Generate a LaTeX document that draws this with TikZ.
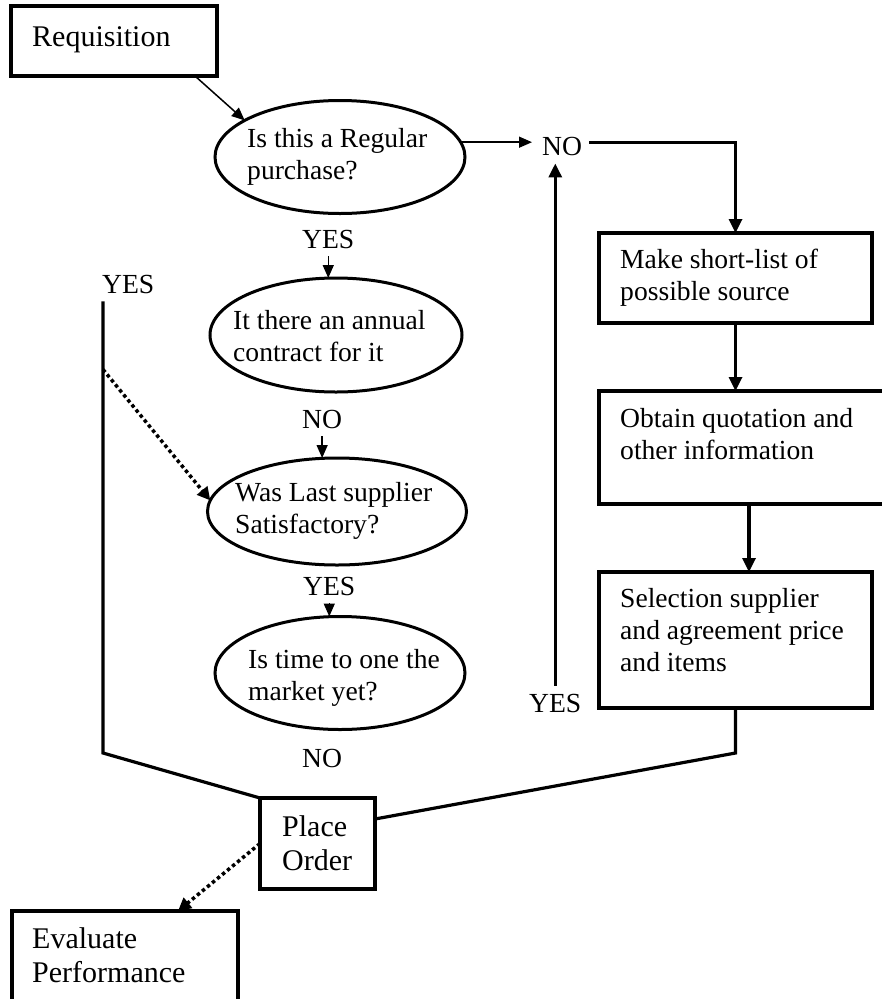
\documentclass[tikz,border=0pt]{standalone}
\usepackage{fontspec}
\setmainfont{Liberation Serif}
\usetikzlibrary{arrows.meta,shapes.geometric}
% left-aligned block of lines whose baseline is the first line
\newcommand\stacktext[1]{\begin{tabular}[t]{@{}l@{}}#1\end{tabular}}
\begin{document}
\begin{tikzpicture}[x=1pt,y=-1pt,
  font=\fontsize{27.6}{32}\selectfont,
  shapebox/.style={draw, line width=3.2pt, rectangle, inner sep=0pt, outer sep=0pt},
  oval/.style={draw, line width=3pt, ellipse, inner sep=0pt, outer sep=0pt},
  boxtext/.style={anchor=base west, inner sep=0pt},
  bigtext/.style={boxtext, font=\fontsize{30}{34.5}\selectfont},
  answer/.style={anchor=base west, inner xsep=0pt, inner ysep=8pt},
  finearrow/.style={line width=1.5pt, -{Triangle[length=13pt,width=11pt]}},
  boldarrow/.style={line width=3.2pt, -{Triangle[length=14pt,width=13pt]}},
  boldline/.style={line width=3.2pt, line join=miter},
  dotarrow/.style={line width=3.5pt, dash pattern=on 3.5pt off 3pt,
                   -{Triangle[length=13pt,width=13pt]}},
]
\useasboundingbox (0,0) rectangle (882,999);
\clip (0,0) rectangle (882,999);
\fill[white] (0,0) rectangle (882,999);

% ---- shapes ----
\node[shapebox, minimum width=206pt, minimum height=70pt] (req) at (114,41) {};
\node[bigtext] (reqT) at (32,46) {Requisition};

\node[oval, minimum width=250pt, minimum height=113pt] (e1) at (340,157) {};
\node[boxtext] (e1T) at (247,147) {\stacktext{Is this a Regular\\purchase?}};

\node[oval, minimum width=252pt, minimum height=114pt] (e2) at (336,335) {};
\node[boxtext] (e2T) at (233,329) {\stacktext{It there an annual\\contract for it}};

\node[oval, minimum width=259pt, minimum height=107pt] (e3) at (337,511.5) {};
\node[boxtext] (e3T) at (235,501) {\stacktext{Was Last supplier\\Satisfactory?}};

\node[oval, minimum width=250pt, minimum height=113pt] (e4) at (340,673) {};
\node[boxtext] (e4T) at (248,668) {\stacktext{Is time to one the\\market yet?}};

\node[shapebox, minimum width=273pt, minimum height=90pt] (b2) at (735.5,278) {};
\node[boxtext] (b2T) at (620,268) {\stacktext{Make short-list of\\possible source}};

\node[shapebox, minimum width=300pt, minimum height=113pt] (b3) at (749,447.5) {};
\node[boxtext] (b3T) at (620,427) {\stacktext{Obtain quotation and\\other information}};

\node[shapebox, minimum width=273pt, minimum height=136pt] (b4) at (735.5,640) {};
\node[boxtext] (b4T) at (620,607) {\stacktext{Selection supplier\\and agreement price\\and items}};

\node[shapebox, minimum width=115pt, minimum height=91pt] (po) at (317.5,843.5) {};
\node[bigtext] (poT) at (282,836) {\stacktext{Place\\Order}};

\node[shapebox, minimum width=226pt, minimum height=100pt] (ev) at (125,961) {};
\node[bigtext] (evT) at (32,948) {\stacktext{Evaluate\\Performance}};

% ---- answer labels ----
\node[answer] (no1) at (542,155) {NO};
\node[answer] (yes1) at (302,248) {YES};
\node[answer] (no2) at (302,428) {NO};
\node[answer] (yes3) at (303,595) {YES};
\node[answer] (no4) at (302,767) {NO};
\node[answer] (yesL) at (102,293) {YES};
\node[answer] (yesR) at (529,712) {YES};

% ---- connectors ----
\draw[finearrow] ([xshift=-22pt]req.south east) -- (e1.159);
\draw[finearrow, shorten >=10pt] (e1.7) -- (e1.7 -| no1.west);

\path (e1.7 -| no1.east) ++(7,0) coordinate (noR);
\draw[boldarrow] (noR) -- (noR -| b2.north) -- (b2.north);
\draw[boldarrow] (b2.south) -- (b2.south |- b3.north);
\draw[boldarrow] (b3.south) -- (b3.south |- b4.north);

\draw[finearrow] (yes1.south) -- (yes1.south |- e2.north);
\draw[finearrow] (no2.south) -- (no2.south |- e3.north);
\draw[finearrow] (yes3.south) -- (yes3.south |- e4.north);

\draw[boldarrow] (yesR.north) -- (yesR.north |- no1.south);

\path (b4.south) ++(0,45) coordinate (bend4);
\draw[boldline] (b4.south) -- (bend4) -- ([yshift=24.5pt]po.east);

\coordinate (lTop) at ([xshift=1pt]yesL.south west);
\coordinate (lBot) at (lTop |- bend4);
\draw[boldline] (lTop) -- (lBot) -- (po.north west);

\path (lTop) ++(0,68) coordinate (lDot);
\draw[dotarrow] (lDot) -- (e3.175);

\draw[dotarrow] (po.west) -- ([xshift=53pt]ev.north);
\end{tikzpicture}
\end{document}
